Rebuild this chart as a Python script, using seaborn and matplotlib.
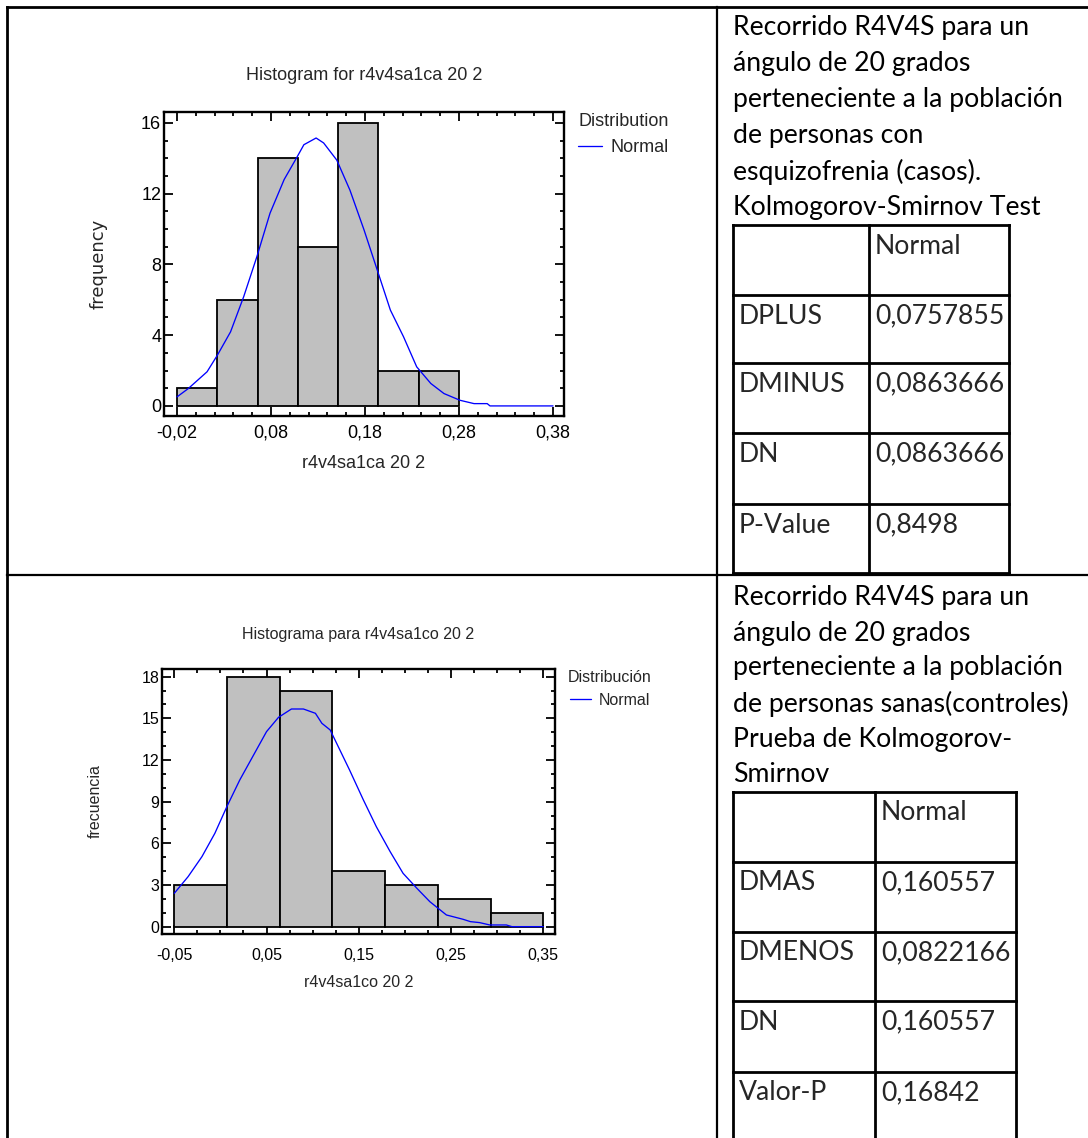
import matplotlib
matplotlib.use("Agg")
import matplotlib.pyplot as plt
from matplotlib.lines import Line2D
from matplotlib.ticker import MultipleLocator
import seaborn as sns

# ---------------- data: casos (esquizofrenia) ----------------
cases_title = "Histogram for r4v4sa1ca 20 2"
cases_xlabel = "r4v4sa1ca 20 2"
cases_ylabel = "frequency"
cases_legend_title = "Distribution"
cases_bin_centers = [0.001429, 0.044286, 0.087143, 0.130000, 0.172857, 0.215714, 0.258571]
cases_counts = [1, 6, 14, 9, 16, 2, 2]
cases_binrange = (-0.02, 0.28)
cases_curve_x = [-0.020, -0.008, 0.012, 0.023, 0.037, 0.051, 0.065, 0.079, 0.094,
                 0.108, 0.115, 0.128, 0.136, 0.150, 0.164, 0.179, 0.193, 0.207,
                 0.221, 0.235, 0.250, 0.264, 0.281, 0.296, 0.310, 0.313, 0.380]
cases_curve_y = [0.51, 0.98, 1.93, 2.87, 4.19, 6.18, 8.44, 10.9, 12.8,
                 14.1, 14.77, 15.15, 14.87, 13.9, 12.2, 9.95, 7.69, 5.42,
                 3.91, 2.21, 1.27, 0.70, 0.32, 0.13, 0.13, 0.0, 0.0]
cases_xticks = [-0.02, 0.08, 0.18, 0.28, 0.38]
cases_xticklabels = ["-0,02", "0,08", "0,18", "0,28", "0,38"]
cases_yticks = [0, 4, 8, 12, 16]
cases_yticklabels = ["0", "4", "8", "12", "16"]

# ---------------- data: controles (sanos) ----------------
controls_title = "Histograma para r4v4sa1co 20 2"
controls_xlabel = "r4v4sa1co 20 2"
controls_ylabel = "frecuencia"
controls_legend_title = "Distribución"
controls_bin_centers = [-0.021429, 0.035714, 0.092857, 0.150000, 0.207143, 0.264286, 0.321429]
controls_counts = [3, 18, 17, 4, 3, 2, 1]
controls_binrange = (-0.05, 0.35)
controls_curve_x = [-0.050, -0.035, -0.020, -0.006, 0.007, 0.021, 0.036, 0.050, 0.063,
                    0.077, 0.090, 0.103, 0.110, 0.119, 0.126, 0.140, 0.155, 0.169,
                    0.184, 0.198, 0.213, 0.227, 0.245, 0.263, 0.271, 0.281, 0.292,
                    0.310, 0.316, 0.350]
controls_curve_y = [2.4, 3.6, 5.04, 6.72, 8.64, 10.56, 12.36, 14.04, 15.07,
                    15.67, 15.67, 15.36, 14.64, 14.16, 13.2, 11.28, 9.12, 7.2,
                    5.4, 3.84, 2.76, 1.8, 0.84, 0.53, 0.36, 0.29, 0.12,
                    0.12, 0.0, 0.0]
controls_xticks = [-0.05, 0.05, 0.15, 0.25, 0.35]
controls_xticklabels = ["-0,05", "0,05", "0,15", "0,25", "0,35"]
controls_yticks = [0, 3, 6, 9, 12, 15, 18]
controls_yticklabels = ["0", "3", "6", "9", "12", "15", "18"]

curve_label = "Normal"

# ---------------- Kolmogorov-Smirnov tables ----------------
cases_desc = ["Recorrido R4V4S para un", "ángulo de 20 grados",
              "perteneciente a la población", "de personas con",
              "esquizofrenia (casos).", "Kolmogorov-Smirnov Test"]
cases_ks_header = "Normal"
cases_ks_stats = ["DPLUS", "DMINUS", "DN", "P-Value"]
cases_ks_values = ["0,0757855", "0,0863666", "0,0863666", "0,8498"]

controls_desc = ["Recorrido R4V4S para un", "ángulo de 20 grados",
                 "perteneciente a la población", "de personas sanas(controles)",
                 "Prueba de Kolmogorov-", "Smirnov"]
controls_ks_header = "Normal"
controls_ks_stats = ["DMAS", "DMENOS", "DN", "Valor-P"]
controls_ks_values = ["0,160557", "0,0822166", "0,160557", "0,16842"]

# ---------------- figure ----------------
W, H = 1088, 1138
sns.set_theme(style="ticks")
chart_font = ["Liberation Sans Narrow", "Liberation Sans", "DejaVu Sans"]
doc_font = ["Lato", "DejaVu Sans"]
doc_size = 19.2
plt.rcParams["font.family"] = chart_font

fig = plt.figure(figsize=(W / 100, H / 100), dpi=100)
fig.patch.set_facecolor("white")


def fx(px):
    return px / W


def fy(py):
    return 1 - py / H


def rule(x0, y0, x1, y1, lw=1.5):
    fig.add_artist(Line2D([fx(x0), fx(x1)], [fy(y0), fy(y1)],
                          transform=fig.transFigure, color="black",
                          lw=lw, solid_capstyle="projecting"))


def histogram_panel(box, centers, counts, binrange, cx, cy, xlim, ylim,
                    xticks, xticklabels, yticks, yticklabels, xminor, yminor,
                    title, xlabel, ylabel, legend_title, legend_anchor,
                    tsize, title_y, ylabel_font, ylabel_pad, xpad, xlabel_pad):
    left, top, right, bottom = box
    ax = fig.add_axes([fx(left), fy(bottom), (right - left) / W, (bottom - top) / H])
    ax.set_facecolor("white")
    sns.histplot(x=centers, weights=counts, bins=len(counts), binrange=binrange,
                 ax=ax, color="#C0C0C0", edgecolor="black", linewidth=1.3,
                 alpha=1.0)
    sns.lineplot(x=cx, y=cy, sort=False, estimator=None, ax=ax,
                 color="#0000FF", linewidth=0.95, label=curve_label)
    ax.set_xlim(*xlim)
    ax.set_ylim(*ylim)
    ax.set_xticks(xticks, labels=xticklabels)
    ax.set_yticks(yticks, labels=yticklabels)
    ax.xaxis.set_minor_locator(MultipleLocator(xminor))
    ax.yaxis.set_minor_locator(MultipleLocator(yminor))
    ax.tick_params(which="both", direction="in", top=True, right=True,
                   width=1.3, colors="black", labelsize=tsize)
    ax.tick_params(which="major", length=6.5)
    ax.tick_params(which="minor", length=3.2)
    ax.tick_params(axis="y", pad=2)
    ax.tick_params(axis="x", pad=xpad)
    for s in ax.spines.values():
        s.set_visible(True)
        s.set_linewidth(1.7)
        s.set_color("black")
    ax.set_xlabel(xlabel, fontsize=tsize, labelpad=xlabel_pad)
    ax.set_ylabel(ylabel, fontsize=tsize, labelpad=ylabel_pad, family=ylabel_font)
    fig.text(fx((left + right) / 2), fy(title_y), title, ha="center",
             va="center", fontsize=tsize)
    ax.legend(loc="upper left", bbox_to_anchor=(fx(legend_anchor[0]), fy(legend_anchor[1])),
              bbox_transform=fig.transFigure, frameon=False, title=legend_title,
              fontsize=tsize, title_fontsize=tsize, handlelength=1.35,
              handletextpad=0.45, borderpad=0, borderaxespad=0)
    return ax


histogram_panel((164, 112, 564, 416), cases_bin_centers, cases_counts, cases_binrange,
                cases_curve_x, cases_curve_y, (-0.0338, 0.3917), (-0.57, 16.62),
                cases_xticks, cases_xticklabels, cases_yticks, cases_yticklabels,
                0.02, 1, cases_title, cases_xlabel, cases_ylabel,
                cases_legend_title, (578, 113), 13, 75,
                ["DejaVu Sans"], 24, 6, 10)

histogram_panel((162, 669, 555, 934), controls_bin_centers, controls_counts, controls_binrange,
                controls_curve_x, controls_curve_y, (-0.0633, 0.3627), (-0.53, 18.55),
                controls_xticks, controls_xticklabels, controls_yticks, controls_yticklabels,
                0.025, 1, controls_title, controls_xlabel, controls_ylabel,
                controls_legend_title, (568, 670), 11.5, 635,
                chart_font, 28, 10, 9)

# ---------------- document frame ----------------
rule(7, 7, 7, H, lw=2)
rule(7, 7, W, 7, lw=2)
rule(717, 7, 717, H, lw=1.6)
rule(7, 575, W, 575, lw=1.6)


def ks_block(desc, desc_y, header, stats, values, cols, rows, bottom):
    for line, y in zip(desc, desc_y):
        fig.text(fx(733), fy(y), line, ha="left", va="center",
                 fontsize=doc_size, family=doc_font, color="black")
    for x in cols:
        rule(x, rows[0], x, bottom, lw=2)
    for y in rows:
        rule(cols[0], y, cols[-1], y, lw=2)
    fig.text(fx(cols[1] + 6), fy(rows[0] + 21), header, ha="left", va="center",
             fontsize=doc_size, family=doc_font)
    for i, (s, v) in enumerate(zip(stats, values)):
        ty = rows[i + 1] + 21
        fig.text(fx(cols[0] + 6), fy(ty), s, ha="left", va="center",
                 fontsize=doc_size, family=doc_font)
        fig.text(fx(cols[1] + 6), fy(ty), v, ha="left", va="center",
                 fontsize=doc_size, family=doc_font)


ks_block(cases_desc, [28, 64, 100, 136, 172, 208], cases_ks_header,
         cases_ks_stats, cases_ks_values, [733, 869, 1009],
         [225, 295, 363, 433, 504, 573], 573)
ks_block(controls_desc, [597, 633, 668, 704, 739, 775], controls_ks_header,
         controls_ks_stats, controls_ks_values, [733, 875, 1016],
         [792, 862, 932, 1001, 1072], H)

fig.savefig("out.png", dpi=100, facecolor="white")
